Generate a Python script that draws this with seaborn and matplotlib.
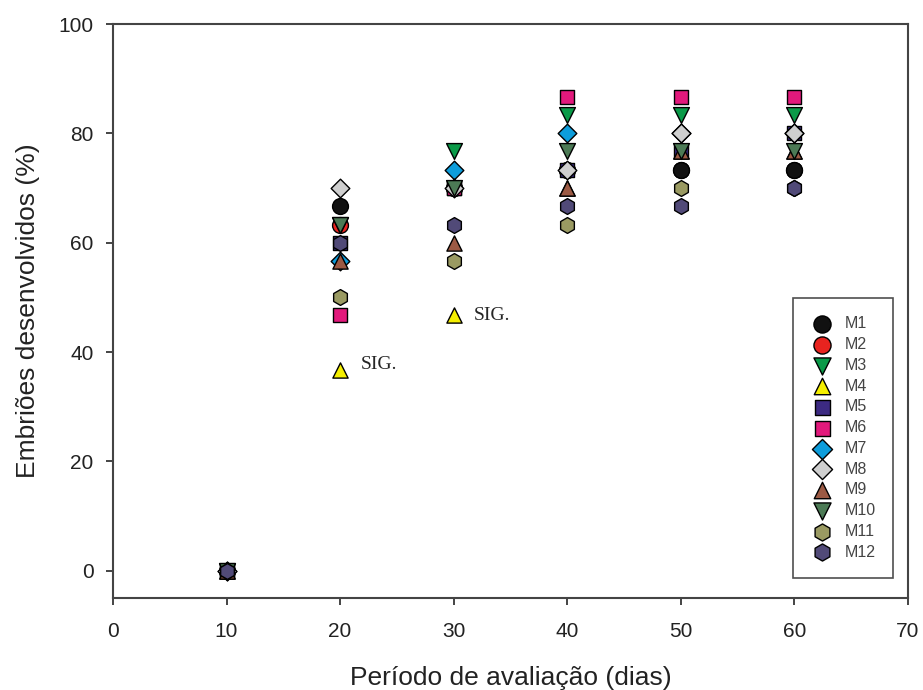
import pandas as pd
import seaborn as sns
import matplotlib.pyplot as plt

days = [10, 20, 30, 40, 50, 60]
M1 = [0, 66.7, 70.0, 73.3, 73.3, 73.3]
M2 = [0, 63.3, 70.0, 73.3, 73.3, 73.3]
M3 = [0, 63.3, 76.7, 83.3, 83.3, 83.3]
M4 = [0, 36.7, 46.7, 70.0, 76.7, 76.7]
M5 = [0, 60.0, 70.0, 73.3, 76.7, 80.0]
M6 = [0, 46.7, 70.0, 86.7, 86.7, 86.7]
M7 = [0, 56.7, 73.3, 80.0, 80.0, 80.0]
M8 = [0, 70.0, 70.0, 73.3, 80.0, 80.0]
M9 = [0, 56.7, 60.0, 70.0, 76.7, 76.7]
M10 = [0, 63.3, 70.0, 76.7, 76.7, 76.7]
M11 = [0, 50.0, 56.7, 63.3, 70.0, 70.0]
M12 = [0, 60.0, 63.3, 66.7, 66.7, 70.0]

series = {"M1": M1, "M2": M2, "M3": M3, "M4": M4, "M5": M5, "M6": M6,
          "M7": M7, "M8": M8, "M9": M9, "M10": M10, "M11": M11, "M12": M12}

colors = {"M1": "#111111", "M2": "#e8231f", "M3": "#0a9a48", "M4": "#f5ef00",
          "M5": "#3c2a82", "M6": "#e2197c", "M7": "#0d9ddb", "M8": "#cfcfcf",
          "M9": "#9c5a44", "M10": "#4c7a55", "M11": "#9a9a62", "M12": "#514a78"}
markers = {"M1": "o", "M2": "o", "M3": "v", "M4": "^", "M5": "s", "M6": "s",
           "M7": "D", "M8": "D", "M9": "^", "M10": "v", "M11": "h", "M12": "h"}
sizes = {"o": 130, "v": 130, "^": 120, "s": 100, "D": 90, "h": 130}
# M2 drawn beneath M1 where they coincide
layer = {"M2": 2.9}

rows = []
for name, vals in series.items():
    for d, v in zip(days, vals):
        rows.append({"dia": d, "valor": v, "meio": name})
df = pd.DataFrame(rows)

sns.set_style("ticks")
plt.rcParams['font.family'] = ['Liberation Sans', 'DejaVu Sans']

fig = plt.figure(figsize=(9.23, 6.9), dpi=100)
ax = fig.add_axes([0.1224, 0.1333, 0.8613, 0.8319])

for name in series:
    sub = df[df["meio"] == name]
    sns.scatterplot(data=sub, x="dia", y="valor", ax=ax, color=colors[name],
                    marker=markers[name], s=sizes[markers[name]],
                    edgecolor="black", linewidth=1.0, label=name,
                    zorder=layer.get(name, 3))

ax.text(21.8, 37.8, "SIG.", family="Liberation Serif", fontsize=14, va="center")
ax.text(31.8, 46.6, "SIG.", family="Liberation Serif", fontsize=14, va="center")

ax.set_xlim(0, 70)
ax.set_ylim(-5, 100)
ax.set_xticks(range(0, 71, 10))
ax.set_yticks(range(0, 101, 20))
ax.tick_params(direction="out", length=5, width=1.4, labelsize=15,
               color="#444444", labelcolor="#222222")
ax.tick_params(axis="x", pad=12)
ax.tick_params(axis="y", pad=9)
for sp in ax.spines.values():
    sp.set_color("#444444")
    sp.set_linewidth(1.5)
ax.set_xlabel("Período de avaliação (dias)", fontsize=19, labelpad=18, color="#222222")
ax.set_ylabel("Embriões desenvolvidos (%)", fontsize=19, labelpad=13, color="#222222")

leg = ax.legend(loc="lower left", bbox_to_anchor=(0.855, 0.035, 0.126, 0.486),
                mode="expand", frameon=True, fancybox=False, fontsize=11.5,
                labelspacing=0.36, handletextpad=0.7, borderaxespad=0,
                borderpad=1.15, handlelength=1.4, markerscale=1.08)
leg.get_frame().set_edgecolor("#222222")
leg.get_frame().set_linewidth(1.2)
for t in leg.get_texts():
    t.set_color("#444444")

fig.savefig("out.png", dpi=100)
